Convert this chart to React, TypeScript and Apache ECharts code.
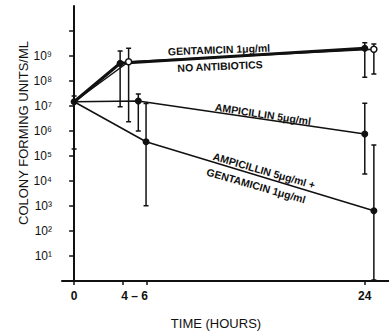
import React, { useEffect, useRef } from "react";
import * as echarts from "echarts";

// Values are log10(CFU/ml)
const gentTimes = [0, 3.8, 24];
const gentLog = [7.17, 8.71, 9.31];
const gentHi = [7.4, 9.2, 9.53];
const gentLo = [5.28, 6.97, 8.15];

const noAbTimes = [0, 4.5, 24.75];
const noAbLog = [7.17, 8.77, 9.27];
const noAbHi = [null, 9.31, 9.48];
const noAbLo = [null, 6.37, 8.28];

const ampTimes = [0, 5.3, 24];
const ampLog = [7.17, 7.2, 5.88];
const ampHi = [null, 7.48, 7.11];
const ampLo = [null, 6.0, 4.28];

const ampGentTimes = [0, 5.94, 24.75];
const ampGentLog = [7.17, 5.57, 2.81];
const ampGentHi = [null, 7.1, 5.44];
const ampGentLo = [null, 3.01, 0.04];

const yTickExps = [1, 2, 3, 4, 5, 6, 7, 8, 9, 10];
const yLabelExps = [1, 2, 3, 4, 5, 6, 7, 8, 9];
const xTicks = [0, 4, 6, 24];
const xLabelPos = [0, 5, 24];
const xLabelText: Record<number, string> = { 0: "0", 5: "4 – 6", 24: "24" };

const SUP = ["⁰", "¹", "²", "³", "⁴", "⁵", "⁶", "⁷", "⁸", "⁹"];
const INK = "#111";
const FONT = "Liberation Sans";

function errData(t: number[], lo: (number | null)[], hi: (number | null)[]) {
  const out: number[][] = [];
  t.forEach((x, i) => {
    if (lo[i] != null && hi[i] != null) out.push([x, lo[i] as number, hi[i] as number]);
  });
  return out;
}

function lineData(t: number[], v: number[], hideFirst: boolean) {
  return t.map((x, i) =>
    hideFirst && i === 0 ? { value: [x, v[i]], symbolSize: 0 } : { value: [x, v[i]] }
  );
}

const allErr = [
  ...errData(gentTimes, gentLo, gentHi),
  ...errData(noAbTimes, noAbLo, noAbHi),
  ...errData(ampTimes, ampLo, ampHi),
  ...errData(ampGentTimes, ampGentLo, ampGentHi),
];

export default function App() {
  const ref = useRef<HTMLDivElement>(null);
  useEffect(() => {
    if (!ref.current) return;
    const chart = echarts.init(ref.current, null, { renderer: "svg" });
    const txt = (text: string, x: number, y: number, rot: number, size = 10.5) => ({
      type: "text",
      x,
      y,
      rotation: rot,
      style: {
        text,
        fill: INK,
        font: `bold ${size}px "${FONT}"`,
        align: "center",
        verticalAlign: "middle",
      },
    });
    chart.setOption({
      animation: false,
      backgroundColor: "#fff",
      grid: { left: 62, right: 0, top: 6, bottom: 54 },
      xAxis: {
        type: "value",
        min: -1,
        max: 26,
        axisLine: { lineStyle: { color: INK, width: 2 } },
        axisTick: { customValues: xTicks, length: 4, lineStyle: { color: INK, width: 1.5 } },
        axisLabel: {
          customValues: xLabelPos,
          formatter: (v: number) => xLabelText[v] ?? "",
          color: INK,
          fontFamily: FONT,
          fontWeight: "bold",
          fontSize: 12,
          margin: 9,
        },
        splitLine: { show: false },
      },
      yAxis: {
        type: "value",
        min: 0,
        max: 11,
        interval: 1,
        axisLine: { show: true, lineStyle: { color: INK, width: 2 } },
        axisTick: { customValues: yTickExps, length: 5, lineStyle: { color: INK, width: 1.5 } },
        axisLabel: {
          customValues: yLabelExps,
          formatter: (v: number) => "10" + SUP[v],
          color: INK,
          fontFamily: FONT,
          fontSize: 12,
          margin: 10,
        },
        splitLine: { show: false },
      },
      graphic: [
        {
          type: "text",
          x: 23,
          y: 133,
          rotation: Math.PI / 2,
          style: {
            text: "COLONY FORMING UNITS/ML",
            fill: INK,
            font: `13px "${FONT}"`,
            align: "center",
            verticalAlign: "middle",
          },
        },
        {
          type: "text",
          x: 216,
          y: 323,
          style: {
            text: "TIME (HOURS)",
            fill: INK,
            font: `13px "${FONT}"`,
            align: "center",
            verticalAlign: "middle",
          },
        },
        txt("GENTAMICIN 1μg/ml", 219, 50, 0.037),
        txt("NO ANTIBIOTICS", 220, 66, 0.045),
        txt("AMPICILLIN 5μg/ml", 263, 114, -0.15),
        txt("AMPICILLIN 5μg/ml +", 264, 171, -0.28),
        txt("GENTAMICIN 1μg/ml", 256, 186, -0.28),
      ],
      series: [
        {
          type: "custom",
          z: 1,
          clip: false,
          data: allErr,
          renderItem: (_p: any, api: any) => {
            const x = api.value(0);
            const top = api.coord([x, api.value(2)]);
            const bot = api.coord([x, api.value(1)]);
            const h = 2.5;
            const st = { stroke: INK, lineWidth: 1.5 };
            return {
              type: "group",
              children: [
                { type: "line", shape: { x1: top[0], y1: top[1], x2: bot[0], y2: bot[1] }, style: st },
                { type: "line", shape: { x1: top[0] - h, y1: top[1], x2: top[0] + h, y2: top[1] }, style: st },
                { type: "line", shape: { x1: bot[0] - h, y1: bot[1], x2: bot[0] + h, y2: bot[1] }, style: st },
              ],
            };
          },
        },
        {
          name: "No antibiotics",
          type: "line",
          z: 4,
          data: lineData(noAbTimes, noAbLog, true),
          symbol: "circle",
          symbolSize: 6,
          showSymbol: true,
          itemStyle: { color: "#ffffff", borderColor: INK, borderWidth: 1.5, opacity: 1 },
          lineStyle: { color: INK, width: 1.5 },
        },
        {
          name: "Gentamicin",
          type: "line",
          z: 3,
          data: lineData(gentTimes, gentLog, false),
          symbol: "circle",
          symbolSize: 7,
          itemStyle: { color: INK },
          lineStyle: { color: INK, width: 3 },
        },
        {
          name: "Ampicillin",
          type: "line",
          z: 3,
          data: lineData(ampTimes, ampLog, true),
          symbol: "circle",
          symbolSize: 7,
          itemStyle: { color: INK },
          lineStyle: { color: INK, width: 1.5 },
        },
        {
          name: "Ampicillin + Gentamicin",
          type: "line",
          z: 3,
          data: lineData(ampGentTimes, ampGentLog, true),
          symbol: "circle",
          symbolSize: 7,
          itemStyle: { color: INK },
          lineStyle: { color: INK, width: 1.5 },
        },
      ],
    });
    return () => chart.dispose();
  }, []);
  return <div ref={ref} style={{ width: 389, height: 335, position: "absolute", left: 0, top: 0 }} />;
}
